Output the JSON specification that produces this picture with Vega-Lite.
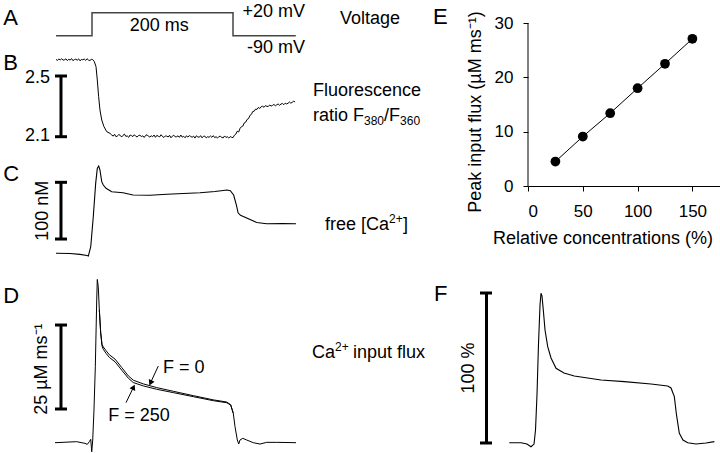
{
  "$schema": "https://vega.github.io/schema/vega-lite/v6.json",
  "padding": 0,
  "background": "white",
  "config": {
    "view": {"stroke": null},
    "font": "Liberation Sans",
    "text": {"fontSize": 18, "color": "black"},
    "axis": {"labelFont": "Liberation Sans", "titleFont": "Liberation Sans", "labelFontSize": 17, "titleFontSize": 18, "titleFontWeight": "normal", "labelColor": "black", "titleColor": "black", "tickColor": "black", "domainColor": "black", "tickSize": 5, "grid": false, "labelPadding": 10}
  },
  "datasets": {
    "voltage": [{"t": -51, "mV": -90}, {"t": 0, "mV": -90}, {"t": 0, "mV": 20}, {"t": 200, "mV": 20}, {"t": 200, "mV": -90}, {"t": 289, "mV": -90}],
    "ratio": [
      {"t": -51, "r": 2.609}, {"t": -49, "r": 2.603}, {"t": -47, "r": 2.612}, {"t": -45, "r": 2.606}, {"t": -43, "r": 2.614}, {"t": -41, "r": 2.604}, {"t": -39, "r": 2.607}, {"t": -37, "r": 2.613}, {"t": -35, "r": 2.602}, {"t": -33, "r": 2.61}, {"t": -31, "r": 2.605}, {"t": -29, "r": 2.615}, {"t": -27, "r": 2.601}, {"t": -25, "r": 2.608}, {"t": -23, "r": 2.611}, {"t": -21, "r": 2.604}, {"t": -19, "r": 2.613}, {"t": -17, "r": 2.6}, {"t": -15, "r": 2.609}, {"t": -13, "r": 2.607}, {"t": -11, "r": 2.612}, {"t": -9, "r": 2.603}, {"t": -7, "r": 2.614}, {"t": -5, "r": 2.605}, {"t": -3, "r": 2.602}, {"t": -1, "r": 2.61}, {"t": 1, "r": 2.608},
      {"t": 3.2, "r": 2.596}, {"t": 5.7, "r": 2.561}, {"t": 7.5, "r": 2.474}, {"t": 9.4, "r": 2.364}, {"t": 11.3, "r": 2.276}, {"t": 13.8, "r": 2.21}, {"t": 17, "r": 2.166}, {"t": 20.9, "r": 2.133}, {"t": 25.5, "r": 2.122},
      {"t": 28, "r": 2.111}, {"t": 30, "r": 2.104}, {"t": 32, "r": 2.116}, {"t": 34, "r": 2.1}, {"t": 36, "r": 2.105}, {"t": 38, "r": 2.114}, {"t": 40, "r": 2.109}, {"t": 42, "r": 2.098}, {"t": 44, "r": 2.109}, {"t": 46, "r": 2.117}, {"t": 48, "r": 2.102}, {"t": 50, "r": 2.105}, {"t": 52, "r": 2.096}, {"t": 54, "r": 2.111}, {"t": 56, "r": 2.107}, {"t": 58, "r": 2.101}, {"t": 60, "r": 2.113}, {"t": 62, "r": 2.103}, {"t": 64, "r": 2.098}, {"t": 66, "r": 2.108}, {"t": 68, "r": 2.11}, {"t": 70, "r": 2.101}, {"t": 72, "r": 2.106}, {"t": 74, "r": 2.095}, {"t": 76, "r": 2.108}, {"t": 78, "r": 2.113}, {"t": 80, "r": 2.103}, {"t": 82, "r": 2.098}, {"t": 84, "r": 2.106}, {"t": 86, "r": 2.1}, {"t": 88, "r": 2.111}, {"t": 90, "r": 2.096}, {"t": 92, "r": 2.109}, {"t": 94, "r": 2.103}, {"t": 96, "r": 2.099}, {"t": 98, "r": 2.113}, {"t": 100, "r": 2.101}, {"t": 102, "r": 2.095}, {"t": 104, "r": 2.105}, {"t": 106, "r": 2.104}, {"t": 108, "r": 2.098}, {"t": 110, "r": 2.109}, {"t": 112, "r": 2.093}, {"t": 114, "r": 2.104}, {"t": 116, "r": 2.11}, {"t": 118, "r": 2.099}, {"t": 120, "r": 2.1}, {"t": 122, "r": 2.106}, {"t": 124, "r": 2.096}, {"t": 126, "r": 2.111}, {"t": 128, "r": 2.097}, {"t": 130, "r": 2.103}, {"t": 132, "r": 2.093}, {"t": 134, "r": 2.106}, {"t": 136, "r": 2.098}, {"t": 138, "r": 2.107}, {"t": 140, "r": 2.102}, {"t": 142, "r": 2.096}, {"t": 144, "r": 2.104}, {"t": 146, "r": 2.091}, {"t": 148, "r": 2.106}, {"t": 150, "r": 2.099}, {"t": 152, "r": 2.096}, {"t": 154, "r": 2.107}, {"t": 156, "r": 2.093}, {"t": 158, "r": 2.102}, {"t": 160, "r": 2.104}, {"t": 162, "r": 2.092}, {"t": 164, "r": 2.1}, {"t": 166, "r": 2.096}, {"t": 168, "r": 2.105}, {"t": 170, "r": 2.096}, {"t": 172, "r": 2.107}, {"t": 174, "r": 2.094}, {"t": 176, "r": 2.1}, {"t": 178, "r": 2.091}, {"t": 180, "r": 2.101}, {"t": 182, "r": 2.103}, {"t": 184, "r": 2.096}, {"t": 186, "r": 2.092}, {"t": 188, "r": 2.105}, {"t": 190, "r": 2.095}, {"t": 192, "r": 2.1}, {"t": 194, "r": 2.091}, {"t": 196, "r": 2.101}, {"t": 198, "r": 2.096},
      {"t": 200, "r": 2.094}, {"t": 202, "r": 2.11}, {"t": 204, "r": 2.117}, {"t": 206, "r": 2.136}, {"t": 208, "r": 2.131}, {"t": 210, "r": 2.155}, {"t": 212, "r": 2.166}, {"t": 214, "r": 2.17}, {"t": 216, "r": 2.191}, {"t": 218, "r": 2.196}, {"t": 220, "r": 2.214}, {"t": 222, "r": 2.219}, {"t": 224, "r": 2.24}, {"t": 226, "r": 2.247}, {"t": 228, "r": 2.266}, {"t": 230, "r": 2.268}, {"t": 232, "r": 2.282}, {"t": 234, "r": 2.28}, {"t": 236, "r": 2.293}, {"t": 238, "r": 2.286}, {"t": 240, "r": 2.298}, {"t": 242, "r": 2.301}, {"t": 244, "r": 2.294}, {"t": 246, "r": 2.305}, {"t": 248, "r": 2.3}, {"t": 250, "r": 2.299}, {"t": 252, "r": 2.309}, {"t": 254, "r": 2.302}, {"t": 256, "r": 2.306}, {"t": 258, "r": 2.313}, {"t": 260, "r": 2.304}, {"t": 262, "r": 2.31}, {"t": 264, "r": 2.316}, {"t": 266, "r": 2.307}, {"t": 268, "r": 2.315}, {"t": 270, "r": 2.319}, {"t": 272, "r": 2.311}, {"t": 274, "r": 2.321}, {"t": 276, "r": 2.316}, {"t": 278, "r": 2.32}, {"t": 280, "r": 2.329}, {"t": 282, "r": 2.321}, {"t": 284, "r": 2.327}, {"t": 286, "r": 2.334}, {"t": 288, "r": 2.329}
    ],
    "calcium": [
      {"t": -51.1, "nM": 60}, {"t": -31.2, "nM": 59.6}, {"t": -17, "nM": 58.2}, {"t": -7.1, "nM": 56.1}, {"t": -5.2, "nM": 55.2}, {"t": -1.8, "nM": 71.6}, {"t": 1.8, "nM": 124.5}, {"t": 5.2, "nM": 183.4}, {"t": 7.5, "nM": 209.9}, {"t": 9.5, "nM": 214}, {"t": 11.3, "nM": 206.9}, {"t": 13.8, "nM": 186.3}, {"t": 16, "nM": 180.5}, {"t": 19.9, "nM": 174.6}, {"t": 27.9, "nM": 168.6}, {"t": 44, "nM": 166.9}, {"t": 58.2, "nM": 162.8}, {"t": 82.3, "nM": 162.3}, {"t": 106.4, "nM": 164.1}, {"t": 153.2, "nM": 166.9}, {"t": 174.5, "nM": 169}, {"t": 191.5, "nM": 171.6}, {"t": 196.2, "nM": 170.5}, {"t": 200.9, "nM": 162.8}, {"t": 204.8, "nM": 145}, {"t": 207.2, "nM": 131.4}, {"t": 210.6, "nM": 127}, {"t": 219.4, "nM": 122.2}, {"t": 233.6, "nM": 114.3}, {"t": 247.8, "nM": 112.1}, {"t": 270, "nM": 112.5}, {"t": 289.4, "nM": 112.1}
    ],
    "flux": [
      {"F": "250", "t": -52.5, "flux": 0}, {"F": "250", "t": -21.7, "flux": 0.3}, {"F": "250", "t": -9.9, "flux": -0.2}, {"F": "250", "t": -6.7, "flux": -0.5}, {"F": "250", "t": -3.8, "flux": 0.3}, {"F": "250", "t": -1.8, "flux": 1.0}, {"F": "250", "t": -0.4, "flux": -2.7}, {"F": "250", "t": 1.0, "flux": 0.8}, {"F": "250", "t": 2.8, "flux": 9.7}, {"F": "250", "t": 4.7, "flux": 22.6}, {"F": "250", "t": 6.7, "flux": 42.5}, {"F": "250", "t": 7.5, "flux": 48.6}, {"F": "250", "t": 8.9, "flux": 46.4}, {"F": "250", "t": 10.4, "flux": 39.5}, {"F": "250", "t": 12.3, "flux": 32.6}, {"F": "250", "t": 14.2, "flux": 28.8}, {"F": "250", "t": 16.0, "flux": 27.8}, {"F": "250", "t": 19.9, "flux": 26.6}, {"F": "250", "t": 24.5, "flux": 25.4}, {"F": "250", "t": 32.6, "flux": 24.1}, {"F": "250", "t": 42.1, "flux": 21.6}, {"F": "250", "t": 51.5, "flux": 19.2}, {"F": "250", "t": 58.6, "flux": 17.9}, {"F": "250", "t": 72.8, "flux": 16.9}, {"F": "250", "t": 91.8, "flux": 15.9}, {"F": "250", "t": 115.3, "flux": 14.9}, {"F": "250", "t": 143.7, "flux": 13.7}, {"F": "250", "t": 172.1, "flux": 12.5}, {"F": "250", "t": 191.1, "flux": 11.9}, {"F": "250", "t": 196.7, "flux": 11.2}, {"F": "250", "t": 200.4, "flux": 8.75}, {"F": "250", "t": 202.8, "flux": 4.8}, {"F": "250", "t": 206.1, "flux": 0.8}, {"F": "250", "t": 208.1, "flux": -0.4}, {"F": "250", "t": 209.9, "flux": 0.8}, {"F": "250", "t": 213.8, "flux": 1.3}, {"F": "250", "t": 219.4, "flux": 0.8}, {"F": "250", "t": 228.8, "flux": 0}, {"F": "250", "t": 238.3, "flux": -0.4}, {"F": "250", "t": 247.8, "flux": 0.1}, {"F": "250", "t": 262, "flux": 0.1}, {"F": "250", "t": 289.4, "flux": 0},
      {"F": "0", "t": 10.4, "flux": 39.5}, {"F": "0", "t": 12.3, "flux": 32.9}, {"F": "0", "t": 14.2, "flux": 29.3}, {"F": "0", "t": 16.0, "flux": 28.5}, {"F": "0", "t": 19.9, "flux": 27.4}, {"F": "0", "t": 24.5, "flux": 26.2}, {"F": "0", "t": 32.6, "flux": 24.9}, {"F": "0", "t": 42.1, "flux": 22.4}, {"F": "0", "t": 51.5, "flux": 19.9}, {"F": "0", "t": 58.6, "flux": 18.6}, {"F": "0", "t": 72.8, "flux": 17.5}, {"F": "0", "t": 91.8, "flux": 16.4}, {"F": "0", "t": 115.3, "flux": 15.3}, {"F": "0", "t": 143.7, "flux": 14.0}, {"F": "0", "t": 172.1, "flux": 12.75}, {"F": "0", "t": 191.1, "flux": 12.1}, {"F": "0", "t": 196.7, "flux": 11.3}, {"F": "0", "t": 200.4, "flux": 8.75}
    ],
    "peak": [{"conc": 25, "flux": 4.5}, {"conc": 50, "flux": 9.1}, {"conc": 75, "flux": 13.4}, {"conc": 100, "flux": 18.0}, {"conc": 125, "flux": 22.5}, {"conc": 150, "flux": 27.1}],
    "norm": [
      {"t": -37.9, "pct": 0.2}, {"t": -21.3, "pct": 0.2}, {"t": -12.8, "pct": -0.7}, {"t": -7.1, "pct": -2.5}, {"t": -2.8, "pct": -0.7}, {"t": -0.7, "pct": 8.7}, {"t": 1.4, "pct": 32}, {"t": 3.5, "pct": 65.3}, {"t": 5.7, "pct": 92}, {"t": 7.1, "pct": 99.8}, {"t": 8.5, "pct": 98}, {"t": 10.6, "pct": 87.3}, {"t": 12.8, "pct": 75.3}, {"t": 16.6, "pct": 64.2}, {"t": 21.3, "pct": 56.7}, {"t": 28.4, "pct": 49.8}, {"t": 39.7, "pct": 46.7}, {"t": 54.3, "pct": 44.7}, {"t": 92.2, "pct": 42}, {"t": 125.2, "pct": 40.9}, {"t": 163.1, "pct": 39.3}, {"t": 186.8, "pct": 38}, {"t": 191.5, "pct": 36.7}, {"t": 196.2, "pct": 30.9}, {"t": 199.3, "pct": 18.7}, {"t": 203.3, "pct": 6.5}, {"t": 208.5, "pct": 2}, {"t": 215.2, "pct": 0.2}, {"t": 227, "pct": -0.7}, {"t": 241.1, "pct": 0}, {"t": 253, "pct": 0.9}
    ]
  },
  "hconcat": [
    {
      "vconcat": [
        {
          "width": 430, "height": 50,
          "data": {"values": [{}]},
          "layer": [
            {"data": {"name": "voltage"}, "mark": {"type": "line", "color": "#444", "strokeWidth": 1.5},
             "encoding": {"x": {"field": "t", "type": "quantitative", "scale": {"domain": [-130.5, 479.4], "nice": false, "zero": false}, "axis": null}, "y": {"field": "mV", "type": "quantitative", "scale": {"domain": [-158.4, 80.7], "nice": false, "zero": false}, "axis": null}}},
            {"mark": {"type": "text", "text": "A", "fontSize": 22, "align": "left", "baseline": "middle"},
             "encoding": {"x": {"datum": -125.8, "type": "quantitative", "scale": {"domain": [-130.5, 479.4], "nice": false, "zero": false}, "axis": null}, "y": {"datum": -6.8, "type": "quantitative", "scale": {"domain": [-158.4, 80.7], "nice": false, "zero": false}, "axis": null}}},
            {"mark": {"type": "text", "text": "200 ms", "align": "center", "baseline": "middle"},
             "encoding": {"x": {"datum": 95.3, "type": "quantitative", "scale": {"domain": [-130.5, 479.4], "nice": false, "zero": false}, "axis": null}, "y": {"datum": -44.5, "type": "quantitative", "scale": {"domain": [-158.4, 80.7], "nice": false, "zero": false}, "axis": null}}},
            {"mark": {"type": "text", "text": "+20 mV", "align": "right", "baseline": "middle"},
             "encoding": {"x": {"datum": 302.1, "type": "quantitative", "scale": {"domain": [-130.5, 479.4], "nice": false, "zero": false}, "axis": null}, "y": {"datum": 24.8, "type": "quantitative", "scale": {"domain": [-158.4, 80.7], "nice": false, "zero": false}, "axis": null}}},
            {"mark": {"type": "text", "text": "-90 mV", "align": "right", "baseline": "middle"},
             "encoding": {"x": {"datum": 302.1, "type": "quantitative", "scale": {"domain": [-130.5, 479.4], "nice": false, "zero": false}, "axis": null}, "y": {"datum": -150.2, "type": "quantitative", "scale": {"domain": [-158.4, 80.7], "nice": false, "zero": false}, "axis": null}}},
            {"mark": {"type": "text", "text": "Voltage", "align": "left", "baseline": "middle"},
             "encoding": {"x": {"datum": 351.8, "type": "quantitative", "scale": {"domain": [-130.5, 479.4], "nice": false, "zero": false}, "axis": null}, "y": {"datum": -10.1, "type": "quantitative", "scale": {"domain": [-158.4, 80.7], "nice": false, "zero": false}, "axis": null}}}
          ]
        },
        {
          "width": 430, "height": 100,
          "data": {"values": [{}]},
          "layer": [
            {"data": {"name": "ratio"}, "mark": {"type": "line", "color": "black", "strokeWidth": 1},
             "encoding": {"x": {"field": "t", "type": "quantitative", "scale": {"domain": [-130.5, 479.4], "nice": false, "zero": false}, "axis": null}, "y": {"field": "r", "type": "quantitative", "scale": {"domain": [2.0124, 2.6714], "nice": false, "zero": false}, "axis": null}}},
            {"mark": {"type": "rule", "color": "black", "strokeWidth": 3},
             "encoding": {"x": {"datum": -44, "type": "quantitative", "scale": {"domain": [-130.5, 479.4], "nice": false, "zero": false}, "axis": null}, "y": {"datum": 2.1, "type": "quantitative", "scale": {"domain": [2.0124, 2.6714], "nice": false, "zero": false}, "axis": null}, "y2": {"datum": 2.5}}},
            {"mark": {"type": "rule", "color": "black", "strokeWidth": 3},
             "encoding": {"x": {"datum": -52.5, "type": "quantitative", "scale": {"domain": [-130.5, 479.4], "nice": false, "zero": false}, "axis": null}, "x2": {"datum": -35.5}, "y": {"datum": 2.5, "type": "quantitative", "scale": {"domain": [2.0124, 2.6714], "nice": false, "zero": false}, "axis": null}}},
            {"mark": {"type": "rule", "color": "black", "strokeWidth": 3},
             "encoding": {"x": {"datum": -52.5, "type": "quantitative", "scale": {"domain": [-130.5, 479.4], "nice": false, "zero": false}, "axis": null}, "x2": {"datum": -35.5}, "y": {"datum": 2.1, "type": "quantitative", "scale": {"domain": [2.0124, 2.6714], "nice": false, "zero": false}, "axis": null}}},
            {"mark": {"type": "text", "text": "B", "fontSize": 22, "align": "left", "baseline": "middle"},
             "encoding": {"x": {"datum": -125.8, "type": "quantitative", "scale": {"domain": [-130.5, 479.4], "nice": false, "zero": false}, "axis": null}, "y": {"datum": 2.584, "type": "quantitative", "scale": {"domain": [2.0124, 2.6714], "nice": false, "zero": false}, "axis": null}}},
            {"mark": {"type": "text", "text": "2.5", "align": "right", "baseline": "middle"},
             "encoding": {"x": {"datum": -59.6, "type": "quantitative", "scale": {"domain": [-130.5, 479.4], "nice": false, "zero": false}, "axis": null}, "y": {"datum": 2.49, "type": "quantitative", "scale": {"domain": [2.0124, 2.6714], "nice": false, "zero": false}, "axis": null}}},
            {"mark": {"type": "text", "text": "2.1", "align": "right", "baseline": "middle"},
             "encoding": {"x": {"datum": -59.6, "type": "quantitative", "scale": {"domain": [-130.5, 479.4], "nice": false, "zero": false}, "axis": null}, "y": {"datum": 2.105, "type": "quantitative", "scale": {"domain": [2.0124, 2.6714], "nice": false, "zero": false}, "axis": null}}},
            {"mark": {"type": "text", "text": "Fluorescence", "align": "left", "baseline": "middle"},
             "encoding": {"x": {"datum": 313.5, "type": "quantitative", "scale": {"domain": [-130.5, 479.4], "nice": false, "zero": false}, "axis": null}, "y": {"datum": 2.401, "type": "quantitative", "scale": {"domain": [2.0124, 2.6714], "nice": false, "zero": false}, "axis": null}}},
            {"mark": {"type": "text", "text": "ratio F", "align": "left", "baseline": "middle"},
             "encoding": {"x": {"datum": 313.5, "type": "quantitative", "scale": {"domain": [-130.5, 479.4], "nice": false, "zero": false}, "axis": null}, "y": {"datum": 2.236, "type": "quantitative", "scale": {"domain": [2.0124, 2.6714], "nice": false, "zero": false}, "axis": null}}},
            {"mark": {"type": "text", "text": "380", "fontSize": 12, "align": "left", "baseline": "middle"},
             "encoding": {"x": {"datum": 385.8, "type": "quantitative", "scale": {"domain": [-130.5, 479.4], "nice": false, "zero": false}, "axis": null}, "y": {"datum": 2.203, "type": "quantitative", "scale": {"domain": [2.0124, 2.6714], "nice": false, "zero": false}, "axis": null}}},
            {"mark": {"type": "text", "text": "/F", "align": "left", "baseline": "middle"},
             "encoding": {"x": {"datum": 414.2, "type": "quantitative", "scale": {"domain": [-130.5, 479.4], "nice": false, "zero": false}, "axis": null}, "y": {"datum": 2.236, "type": "quantitative", "scale": {"domain": [2.0124, 2.6714], "nice": false, "zero": false}, "axis": null}}},
            {"mark": {"type": "text", "text": "360", "fontSize": 12, "align": "left", "baseline": "middle"},
             "encoding": {"x": {"datum": 436.9, "type": "quantitative", "scale": {"domain": [-130.5, 479.4], "nice": false, "zero": false}, "axis": null}, "y": {"datum": 2.203, "type": "quantitative", "scale": {"domain": [2.0124, 2.6714], "nice": false, "zero": false}, "axis": null}}}
          ]
        },
        {
          "width": 430, "height": 115,
          "data": {"values": [{}]},
          "layer": [
            {"data": {"name": "calcium"}, "mark": {"type": "line", "color": "black", "strokeWidth": 1.1},
             "encoding": {"x": {"field": "t", "type": "quantitative", "scale": {"domain": [-130.5, 479.4], "nice": false, "zero": false}, "axis": null}, "y": {"field": "nM", "type": "quantitative", "scale": {"domain": [39.4, 242.2], "nice": false, "zero": false}, "axis": null}}},
            {"mark": {"type": "rule", "color": "black", "strokeWidth": 3},
             "encoding": {"x": {"datum": -44, "type": "quantitative", "scale": {"domain": [-130.5, 479.4], "nice": false, "zero": false}, "axis": null}, "y": {"datum": 85.2, "type": "quantitative", "scale": {"domain": [39.4, 242.2], "nice": false, "zero": false}, "axis": null}, "y2": {"datum": 185.2}}},
            {"mark": {"type": "rule", "color": "black", "strokeWidth": 3},
             "encoding": {"x": {"datum": -52.5, "type": "quantitative", "scale": {"domain": [-130.5, 479.4], "nice": false, "zero": false}, "axis": null}, "x2": {"datum": -35.5}, "y": {"datum": 85.2, "type": "quantitative", "scale": {"domain": [39.4, 242.2], "nice": false, "zero": false}, "axis": null}}},
            {"mark": {"type": "rule", "color": "black", "strokeWidth": 3},
             "encoding": {"x": {"datum": -52.5, "type": "quantitative", "scale": {"domain": [-130.5, 479.4], "nice": false, "zero": false}, "axis": null}, "x2": {"datum": -35.5}, "y": {"datum": 185.2, "type": "quantitative", "scale": {"domain": [39.4, 242.2], "nice": false, "zero": false}, "axis": null}}},
            {"mark": {"type": "text", "text": "C", "fontSize": 22, "align": "left", "baseline": "middle"},
             "encoding": {"x": {"datum": -125.8, "type": "quantitative", "scale": {"domain": [-130.5, 479.4], "nice": false, "zero": false}, "axis": null}, "y": {"datum": 199.9, "type": "quantitative", "scale": {"domain": [39.4, 242.2], "nice": false, "zero": false}, "axis": null}}},
            {"mark": {"type": "text", "text": "100 nM", "angle": 270, "align": "center", "baseline": "middle"},
             "encoding": {"x": {"datum": -69, "type": "quantitative", "scale": {"domain": [-130.5, 479.4], "nice": false, "zero": false}, "axis": null}, "y": {"datum": 135, "type": "quantitative", "scale": {"domain": [39.4, 242.2], "nice": false, "zero": false}, "axis": null}}},
            {"mark": {"type": "text", "text": "free [Ca", "align": "left", "baseline": "middle"},
             "encoding": {"x": {"datum": 330.5, "type": "quantitative", "scale": {"domain": [-130.5, 479.4], "nice": false, "zero": false}, "axis": null}, "y": {"datum": 109.9, "type": "quantitative", "scale": {"domain": [39.4, 242.2], "nice": false, "zero": false}, "axis": null}}},
            {"mark": {"type": "text", "text": "2+", "fontSize": 12, "align": "left", "baseline": "middle"},
             "encoding": {"x": {"datum": 421.3, "type": "quantitative", "scale": {"domain": [-130.5, 479.4], "nice": false, "zero": false}, "axis": null}, "y": {"datum": 121, "type": "quantitative", "scale": {"domain": [39.4, 242.2], "nice": false, "zero": false}, "axis": null}}},
            {"mark": {"type": "text", "text": "]", "align": "left", "baseline": "middle"},
             "encoding": {"x": {"datum": 441.1, "type": "quantitative", "scale": {"domain": [-130.5, 479.4], "nice": false, "zero": false}, "axis": null}, "y": {"datum": 109.9, "type": "quantitative", "scale": {"domain": [39.4, 242.2], "nice": false, "zero": false}, "axis": null}}}
          ]
        },
        {
          "width": 430, "height": 188,
          "data": {"values": [{}]},
          "layer": [
            {"data": {"name": "flux"}, "mark": {"type": "line", "color": "black", "strokeWidth": 1},
             "encoding": {"x": {"field": "t", "type": "quantitative", "scale": {"domain": [-130.5, 479.4], "nice": false, "zero": false}, "axis": null}, "y": {"field": "flux", "type": "quantitative", "scale": {"domain": [-3.07, 52.9], "nice": false, "zero": false}, "axis": null}, "detail": {"field": "F", "type": "nominal"}}},
            {"mark": {"type": "rule", "color": "black", "strokeWidth": 3},
             "encoding": {"x": {"datum": -44, "type": "quantitative", "scale": {"domain": [-130.5, 479.4], "nice": false, "zero": false}, "axis": null}, "y": {"datum": 10.03, "type": "quantitative", "scale": {"domain": [-3.07, 52.9], "nice": false, "zero": false}, "axis": null}, "y2": {"datum": 35.03}}},
            {"mark": {"type": "rule", "color": "black", "strokeWidth": 3},
             "encoding": {"x": {"datum": -52.5, "type": "quantitative", "scale": {"domain": [-130.5, 479.4], "nice": false, "zero": false}, "axis": null}, "x2": {"datum": -35.5}, "y": {"datum": 10.03, "type": "quantitative", "scale": {"domain": [-3.07, 52.9], "nice": false, "zero": false}, "axis": null}}},
            {"mark": {"type": "rule", "color": "black", "strokeWidth": 3},
             "encoding": {"x": {"datum": -52.5, "type": "quantitative", "scale": {"domain": [-130.5, 479.4], "nice": false, "zero": false}, "axis": null}, "x2": {"datum": -35.5}, "y": {"datum": 35.03, "type": "quantitative", "scale": {"domain": [-3.07, 52.9], "nice": false, "zero": false}, "axis": null}}},
            {"mark": {"type": "rule", "color": "black", "strokeWidth": 1},
             "encoding": {"x": {"datum": 94.0, "type": "quantitative", "scale": {"domain": [-130.5, 479.4], "nice": false, "zero": false}, "axis": null}, "x2": {"datum": 83.8}, "y": {"datum": 22.8, "type": "quantitative", "scale": {"domain": [-3.07, 52.9], "nice": false, "zero": false}, "axis": null}, "y2": {"datum": 18.2}}},
            {"mark": {"type": "rule", "color": "black", "strokeWidth": 1},
             "encoding": {"x": {"datum": 48.2, "type": "quantitative", "scale": {"domain": [-130.5, 479.4], "nice": false, "zero": false}, "axis": null}, "x2": {"datum": 57.9}, "y": {"datum": 11.9, "type": "quantitative", "scale": {"domain": [-3.07, 52.9], "nice": false, "zero": false}, "axis": null}, "y2": {"datum": 16.1}}},
            {"mark": {"type": "point", "shape": "triangle-up", "filled": true, "color": "black", "opacity": 1, "size": 40, "angle": 205},
             "encoding": {"x": {"datum": 83.0, "type": "quantitative", "scale": {"domain": [-130.5, 479.4], "nice": false, "zero": false}, "axis": null}, "y": {"datum": 17.8, "type": "quantitative", "scale": {"domain": [-3.07, 52.9], "nice": false, "zero": false}, "axis": null}}},
            {"mark": {"type": "point", "shape": "triangle-up", "filled": true, "color": "black", "opacity": 1, "size": 40, "angle": 26},
             "encoding": {"x": {"datum": 58.9, "type": "quantitative", "scale": {"domain": [-130.5, 479.4], "nice": false, "zero": false}, "axis": null}, "y": {"datum": 16.5, "type": "quantitative", "scale": {"domain": [-3.07, 52.9], "nice": false, "zero": false}, "axis": null}}},
            {"mark": {"type": "text", "text": "D", "fontSize": 22, "align": "left", "baseline": "middle"},
             "encoding": {"x": {"datum": -125.8, "type": "quantitative", "scale": {"domain": [-130.5, 479.4], "nice": false, "zero": false}, "axis": null}, "y": {"datum": 43.8, "type": "quantitative", "scale": {"domain": [-3.07, 52.9], "nice": false, "zero": false}, "axis": null}}},
            {"mark": {"type": "text", "text": "25 µM ms⁻¹", "angle": 270, "align": "center", "baseline": "middle"},
             "encoding": {"x": {"datum": -71, "type": "quantitative", "scale": {"domain": [-130.5, 479.4], "nice": false, "zero": false}, "axis": null}, "y": {"datum": 21.9, "type": "quantitative", "scale": {"domain": [-3.07, 52.9], "nice": false, "zero": false}, "axis": null}}},
            {"mark": {"type": "text", "text": "F = 0", "align": "left", "baseline": "middle"},
             "encoding": {"x": {"datum": 100.7, "type": "quantitative", "scale": {"domain": [-130.5, 479.4], "nice": false, "zero": false}, "axis": null}, "y": {"datum": 22.2, "type": "quantitative", "scale": {"domain": [-3.07, 52.9], "nice": false, "zero": false}, "axis": null}}},
            {"mark": {"type": "text", "text": "F = 250", "align": "left", "baseline": "middle"},
             "encoding": {"x": {"datum": 23.1, "type": "quantitative", "scale": {"domain": [-130.5, 479.4], "nice": false, "zero": false}, "axis": null}, "y": {"datum": 8.0, "type": "quantitative", "scale": {"domain": [-3.07, 52.9], "nice": false, "zero": false}, "axis": null}}},
            {"mark": {"type": "text", "text": "Ca", "align": "left", "baseline": "middle"},
             "encoding": {"x": {"datum": 312.1, "type": "quantitative", "scale": {"domain": [-130.5, 479.4], "nice": false, "zero": false}, "axis": null}, "y": {"datum": 26.7, "type": "quantitative", "scale": {"domain": [-3.07, 52.9], "nice": false, "zero": false}, "axis": null}}},
            {"mark": {"type": "text", "text": "2+", "fontSize": 12, "align": "left", "baseline": "middle"},
             "encoding": {"x": {"datum": 344.7, "type": "quantitative", "scale": {"domain": [-130.5, 479.4], "nice": false, "zero": false}, "axis": null}, "y": {"datum": 28.4, "type": "quantitative", "scale": {"domain": [-3.07, 52.9], "nice": false, "zero": false}, "axis": null}}},
            {"mark": {"type": "text", "text": "input flux", "align": "left", "baseline": "middle"},
             "encoding": {"x": {"datum": 370.2, "type": "quantitative", "scale": {"domain": [-130.5, 479.4], "nice": false, "zero": false}, "axis": null}, "y": {"datum": 26.7, "type": "quantitative", "scale": {"domain": [-3.07, 52.9], "nice": false, "zero": false}, "axis": null}}}
          ]
        }
      ],
      "spacing": 0,
      "bounds": "flush"
    },
    {
      "vconcat": [
        {
          "width": 193, "height": 186,
          "data": {"values": [{}]},
          "layer": [
            {"data": {"name": "peak"}, "mark": {"type": "line", "color": "black", "strokeWidth": 1},
             "encoding": {
               "x": {"field": "conc", "type": "quantitative", "scale": {"domain": [0, 176.1], "nice": false, "zero": false}, "axis": {"values": [0, 50, 100, 150], "title": "Relative concentrations (%)", "labelPadding": 12, "titlePadding": 10, "titleX": 74.5}},
               "y": {"field": "flux", "type": "quantitative", "scale": {"domain": [0, 34.24], "nice": false, "zero": false}, "axis": {"values": [0, 10, 20, 30], "title": "Peak input flux (µM ms⁻¹)", "domain": false, "titlePadding": 10, "titleY": 111.5}}}},
            {"data": {"name": "peak"}, "mark": {"type": "circle", "color": "black", "opacity": 1, "size": 95},
             "encoding": {
               "x": {"field": "conc", "type": "quantitative", "scale": {"domain": [0, 176.1], "nice": false, "zero": false}},
               "y": {"field": "flux", "type": "quantitative", "scale": {"domain": [0, 34.24], "nice": false, "zero": false}}}},
            {"mark": {"type": "rule", "color": "black", "strokeWidth": 1},
             "encoding": {"x": {"datum": 0, "type": "quantitative", "scale": {"domain": [0, 176.1], "nice": false, "zero": false}}, "y": {"datum": 0, "type": "quantitative", "scale": {"domain": [0, 34.24], "nice": false, "zero": false}}, "y2": {"datum": 30}}},
            {"mark": {"type": "text", "text": "E", "fontSize": 22, "align": "left", "baseline": "middle"},
             "encoding": {"x": {"datum": -86.7, "type": "quantitative", "scale": {"domain": [0, 176.1], "nice": false, "zero": false}}, "y": {"datum": 31.16, "type": "quantitative", "scale": {"domain": [0, 34.24], "nice": false, "zero": false}}}}
          ]
        },
        {
          "width": 193, "height": 166,
          "data": {"values": [{}]},
          "layer": [
            {"data": {"name": "norm"}, "mark": {"type": "line", "color": "black", "strokeWidth": 1.1},
             "encoding": {"x": {"field": "t", "type": "quantitative", "scale": {"domain": [-11.35, 262.41], "nice": false, "zero": false}, "axis": null}, "y": {"field": "pct", "type": "quantitative", "scale": {"domain": [-6.67, 104], "nice": false, "zero": false}, "axis": null}}},
            {"mark": {"type": "rule", "color": "black", "strokeWidth": 3},
             "encoding": {"x": {"datum": -70.2, "type": "quantitative", "scale": {"domain": [-11.35, 262.41], "nice": false, "zero": false}, "axis": null}, "y": {"datum": 0, "type": "quantitative", "scale": {"domain": [-6.67, 104], "nice": false, "zero": false}, "axis": null}, "y2": {"datum": 100}}},
            {"mark": {"type": "rule", "color": "black", "strokeWidth": 3},
             "encoding": {"x": {"datum": -79.4, "type": "quantitative", "scale": {"domain": [-11.35, 262.41], "nice": false, "zero": false}, "axis": null}, "x2": {"datum": -62.4}, "y": {"datum": 0, "type": "quantitative", "scale": {"domain": [-6.67, 104], "nice": false, "zero": false}, "axis": null}}},
            {"mark": {"type": "rule", "color": "black", "strokeWidth": 3},
             "encoding": {"x": {"datum": -79.4, "type": "quantitative", "scale": {"domain": [-11.35, 262.41], "nice": false, "zero": false}, "axis": null}, "x2": {"datum": -62.4}, "y": {"datum": 100, "type": "quantitative", "scale": {"domain": [-6.67, 104], "nice": false, "zero": false}, "axis": null}}},
            {"mark": {"type": "text", "text": "100 %", "angle": 270, "align": "center", "baseline": "middle"},
             "encoding": {"x": {"datum": -95, "type": "quantitative", "scale": {"domain": [-11.35, 262.41], "nice": false, "zero": false}, "axis": null}, "y": {"datum": 50, "type": "quantitative", "scale": {"domain": [-6.67, 104], "nice": false, "zero": false}, "axis": null}}},
            {"mark": {"type": "text", "text": "F", "fontSize": 22, "align": "left", "baseline": "middle"},
             "encoding": {"x": {"datum": -144.7, "type": "quantitative", "scale": {"domain": [-11.35, 262.41], "nice": false, "zero": false}, "axis": null}, "y": {"datum": 99, "type": "quantitative", "scale": {"domain": [-6.67, 104], "nice": false, "zero": false}, "axis": null}}}
          ]
        }
      ],
      "spacing": 101,
      "bounds": "flush"
    }
  ],
  "spacing": 2
}
